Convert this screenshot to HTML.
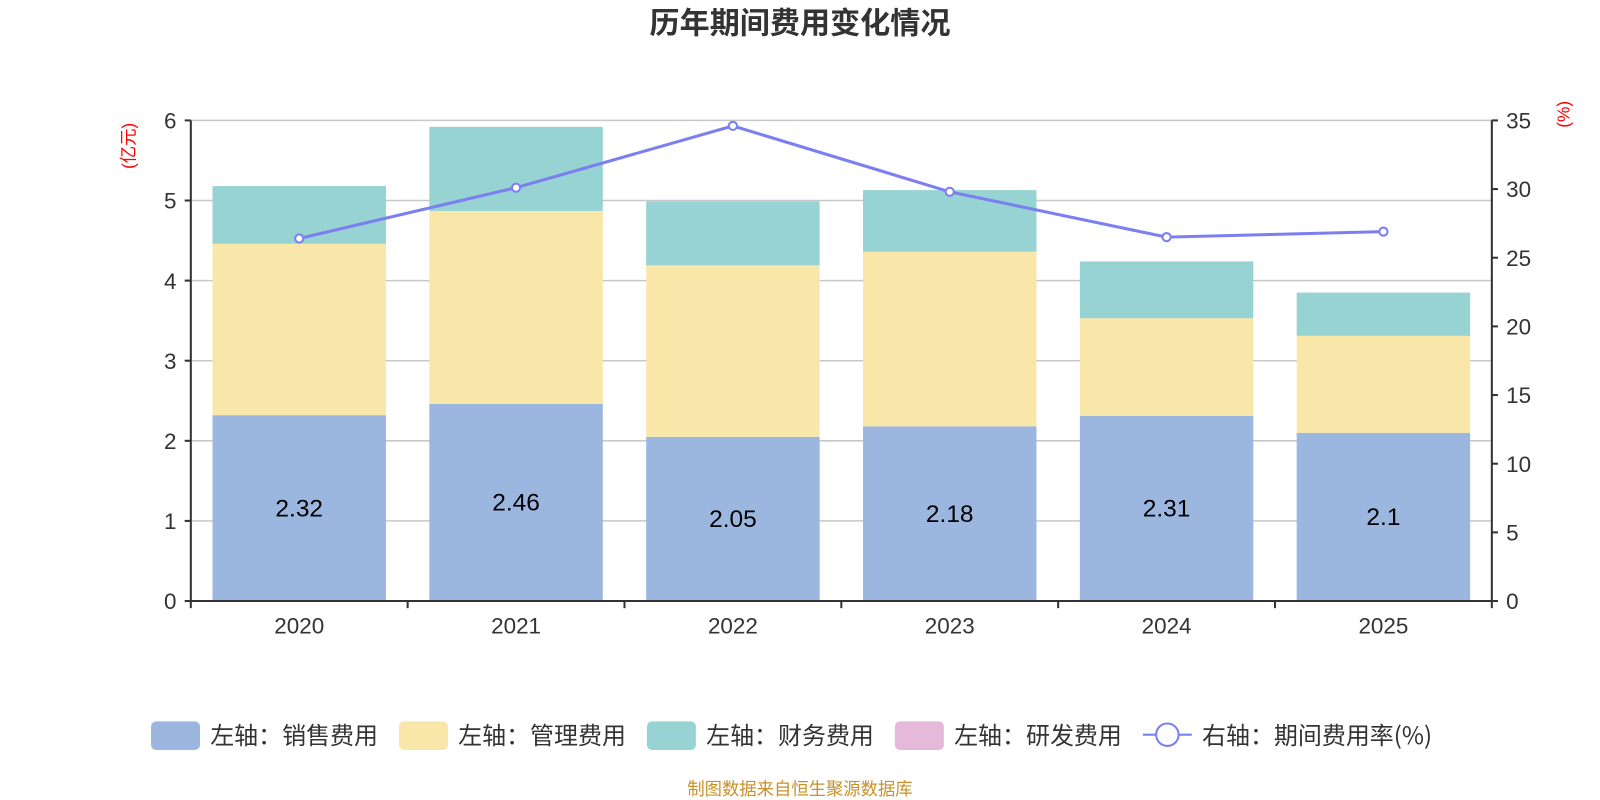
<!DOCTYPE html>
<html><head><meta charset="utf-8"><style>
body{margin:0;background:#fff;}
svg{display:block;font-family:"Liberation Sans","Noto Sans CJK SC",sans-serif;}
</style></head><body>
<svg id="chart" width="1600" height="800" viewBox="0 0 1568 784" xmlns="http://www.w3.org/2000/svg">
<text x="784" y="33" text-anchor="middle" font-size="29.5" font-weight="bold" fill="#333" font-family="'Noto Sans CJK SC',sans-serif">历年期间费用变化情况</text>
<g id="grid"></g><g id="bars"></g><g id="line"></g><g id="axes"></g>
<text transform="translate(132,143) rotate(-90)" text-anchor="middle" font-size="17" fill="#f00">(亿元)</text>
<text transform="translate(1538,112) rotate(-90)" text-anchor="middle" font-size="17" fill="#f00">(%)</text>
<g font-size="23.5" fill="#333" font-family="'Noto Sans CJK SC',sans-serif">
<g><rect x="148" y="707" width="48" height="28" rx="5" fill="#9bb7e0"/><text x="206" y="729">左轴：销售费用</text></g>
<g><rect x="391" y="707" width="48" height="28" rx="5" fill="#f8e7a8"/><text x="449" y="729">左轴：管理费用</text></g>
<g><rect x="634" y="707" width="48" height="28" rx="5" fill="#97d3d3"/><text x="692" y="729">左轴：财务费用</text></g>
<g><rect x="877" y="707" width="48" height="28" rx="5" fill="#e6b8d9"/><text x="935" y="729">左轴：研发费用</text></g>
<g><line x1="1120" y1="720" x2="1168" y2="720" stroke="#7b7ff0" stroke-width="2"/><circle cx="1144" cy="720" r="11" fill="#fff" stroke="#7b7ff0" stroke-width="2"/><text x="1178" y="729">右轴：期间费用率(%)</text></g>
</g>
<text x="784" y="779" text-anchor="middle" font-size="17" fill="#c9912a" font-family="'Noto Sans CJK SC',sans-serif">制图数据来自恒生聚源数据库</text>
</svg>
<script>
const years=["2020","2021","2022","2023","2024","2025"];
const sales=[2.32,2.46,2.05,2.18,2.31,2.1];
const admin=[2.14,2.41,2.14,2.18,1.22,1.21];
const finance=[0.72,1.05,0.80,0.77,0.71,0.54];
const rnd=[0,0,0,0,0,0];
const rate=[26.4,30.1,34.6,29.8,26.5,26.9];
const leftTicks=[0,1,2,3,4,5,6];
const rightTicks=[0,5,10,15,20,25,30,35];
const NS="http://www.w3.org/2000/svg";
const X0=187,X1=1462,Y0=589,Y1=118;
const bw=(X1-X0)/years.length;
const yL=v=>Y0-(v/6)*(Y0-Y1);
const yR=v=>Y0-(v/35)*(Y0-Y1);
const xC=i=>X0+bw*(i+0.5);
function mk(t,a,p){const e=document.createElementNS(NS,t);for(const k in a)e.setAttribute(k,a[k]);p.appendChild(e);return e;}
const grid=document.getElementById('grid'),bars=document.getElementById('bars'),line=document.getElementById('line'),axes=document.getElementById('axes');
leftTicks.forEach(v=>{if(v>0){const g=mk('line',{x1:X0,x2:X1,y1:yL(v),y2:yL(v),stroke:'#c8c8c8','stroke-width':1.5},grid);

}
const t=mk('text',{x:X0-14,y:yL(v)+8,'text-anchor':'end','font-size':22,fill:'#333'},axes);t.textContent=v;


mk('line',{x1:X0-6,x2:X0,y1:yL(v),y2:yL(v),stroke:'#333','stroke-width':2},axes);});
rightTicks.forEach(v=>{const t=mk('text',{x:X1+14,y:yR(v)+8,'font-size':22,fill:'#333'},axes);t.textContent=v;


mk('line',{x1:X1,x2:X1+6,y1:yR(v),y2:yR(v),stroke:'#333','stroke-width':2},axes);});
mk('line',{x1:X0,x2:X0,y1:Y1,y2:Y0,stroke:'#333','stroke-width':2},axes);
mk('line',{x1:X1,x2:X1,y1:Y1,y2:Y0,stroke:'#333','stroke-width':2},axes);
mk('line',{x1:X0,x2:X1,y1:Y0,y2:Y0,stroke:'#333','stroke-width':2},axes);
for(let i=0;i<=years.length;i++)mk('line',{x1:X0+bw*i,x2:X0+bw*i,y1:Y0,y2:Y0+7,stroke:'#333','stroke-width':2},axes);
const series=[[sales,'#9bb7e0','bar-sales'],[admin,'#f8e7a8','bar-admin'],[finance,'#97d3d3','bar-finance'],[rnd,'#e6b8d9','bar-rnd']];
years.forEach((y,i)=>{let base=0;const w=170,x=xC(i)-w/2;
series.forEach(([arr,c,n])=>{const v=arr[i];if(v>0){const r=mk('rect',{x:x,y:yL(base+v),width:w,height:yL(base)-yL(base+v),fill:c},bars);

}base+=v;});
const l=mk('text',{x:xC(i),y:(yL(0)+yL(sales[i]))/2+8,'text-anchor':'middle','font-size':24,fill:'#000'},bars);l.textContent=sales[i];


const t=mk('text',{x:xC(i),y:Y0+32,'text-anchor':'middle','font-size':22,fill:'#333'},axes);t.textContent=y;

});
const p=mk('polyline',{points:rate.map((v,i)=>xC(i)+','+yR(v)).join(' '),fill:'none',stroke:'#7b7ff0','stroke-width':3},line);


rate.forEach((v,i)=>{const c=mk('circle',{cx:xC(i),cy:yR(v),r:4,fill:'#fff',stroke:'#7b7ff0','stroke-width':2},line);

});
</script>
</body></html>
